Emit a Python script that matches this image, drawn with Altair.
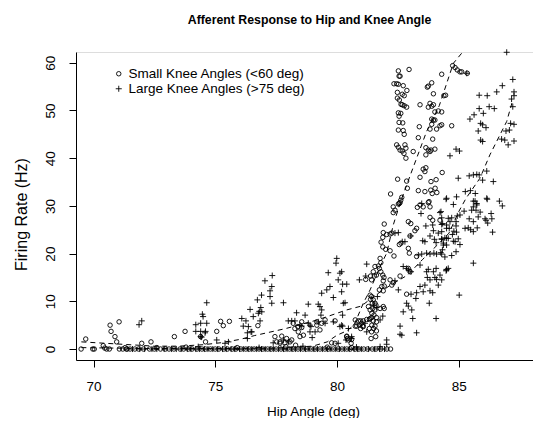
import altair as alt
import pandas as pd

# ---------------- data ----------------
small_x = [69.49, 69.68, 69.97, 70.03, 70.4, 70.46, 70.54, 70.65, 70.68, 70.72, 70.88, 70.95, 71.05, 71.06,
           71.3, 71.38, 71.98, 72.36, 73.32, 73.76, 74.4, 74.6, 75.06, 75.22, 75.33, 75.58, 76.75,
           77.45, 77.66, 78.07, 78.41, 78.48, 78.55, 77.73, 77.93, 78.14, 77.52, 77.66, 77.86, 78.62, 78.27,
           78.39, 78.55, 78.2, 79.17, 79.3, 79.17, 79.37, 79.51, 79.92, 79.78, 79.92, 80.4, 80.47, 80.58,
           80.75, 80.88, 80.97, 81.08, 81.22, 81.05, 80.92, 80.97, 80.75, 80.81, 81.33, 81.42, 81.56, 81.62,
           81.49, 81.62, 80.4, 80.42, 80.6, 81.4, 81.59, 81.01, 81.08, 81.36, 81.43, 81.5,
           81.29, 81.36, 81.43, 81.56, 81.77, 81.36, 81.42, 81.38, 81.49, 81.45, 81.6, 81.47, 81.56, 81.52,
           81.42, 81.62, 81.33, 81.9, 81.94,
           81.77, 81.8, 81.7, 81.74, 81.8, 81.88, 81.93, 81.9, 81.56, 81.49, 81.38, 81.53, 81.62, 81.42, 81.18,
           82.18, 82.31, 82.25, 81.94, 81.84, 81.9, 81.74, 82.86,
           81.81, 81.88, 82.0, 82.18, 82.34, 82.56, 82.63, 82.93, 82.97, 83.27, 82.93, 83.0, 82.59,
           81.94, 81.9, 82.04, 82.18, 82.25, 81.88, 82.93, 83.03, 83.27, 83.2, 83.0, 83.82, 83.93, 84.23,
           82.31, 82.38, 82.31, 82.59, 82.52, 83.3, 83.41, 83.54, 83.75, 83.82,
           82.2, 82.66, 82.62, 82.56, 82.89, 82.49, 82.86,
           83.34, 83.61, 83.85, 84.03, 84.1, 83.91, 83.78, 83.41, 84.07, 83.86, 83.54, 83.65, 83.61, 84.32,
           82.45, 82.52, 82.59, 82.68, 82.79, 82.83, 82.75, 82.83, 83.13,
           83.65, 83.75, 83.82, 83.86, 84.02, 83.65, 83.34, 83.93,
           82.52, 82.72, 82.76, 82.55, 82.70, 82.52, 82.62, 82.55,
           82.48, 82.56, 82.63, 82.68, 82.76, 82.86, 82.48, 82.68, 82.76, 82.87, 82.34, 82.45, 82.52, 82.72,
           82.55, 82.59, 82.52, 82.96,
           83.75, 83.89, 83.71, 83.96, 84.3, 84.39, 84.46, 83.41, 83.75, 83.82, 83.89, 83.96, 84.02, 84.16,
           84.3, 83.89, 83.96, 84.02, 83.89, 84.23, 84.71, 83.38, 83.82, 84.09, 84.3,
           84.75, 84.85, 84.94, 85.05, 85.12, 85.35,
           71.2, 71.35, 71.5, 71.7, 71.85, 72.05, 72.3, 72.5, 72.75, 72.95, 73.1, 73.3, 73.55, 73.7, 73.9,
           74.05, 74.25, 74.45, 74.6, 74.8, 75.0, 75.15, 75.35, 75.5, 75.7, 75.85, 76.05, 76.25, 76.4, 76.6,
           76.8, 76.95, 77.15, 77.3, 77.5, 77.7, 77.85, 78.05, 78.2, 78.4, 78.6, 78.75, 78.95, 79.1, 79.3,
           79.5, 79.65, 79.85, 80.05, 80.2, 80.4, 80.55, 80.75, 80.9, 81.1, 81.25, 81.45, 81.6, 81.8, 82.05,
           82.2, 72.6, 73.8, 75.9, 77.9, 78.3, 79.6, 80.6]
small_y = [0.0, 2.1, 0.0, 0.0, 0.7, 0.2, 0.0, 0.0, 5.0, 3.7, 2.6, 1.5, 5.7, 0.0,
           0.3, 0.0, 1.2, 1.5, 2.6, 3.7, 2.6, 1.5, 3.7, 5.8, 4.9, 5.8, 4.9,
           2.6, 1.5, 1.5, 3.6, 2.6, 4.5, 2.7, 2.2, 1.9, 1.5, 1.2, 1.3, 2.9, 4.3,
           4.7, 5.7, 5.4, 5.0, 4.0, 5.7, 5.4, 6.1, 5.9, 1.3, 1.2, 2.6, 1.9, 1.2,
           6.1, 5.9, 5.9, 5.9, 6.2, 4.8, 5.0, 4.3, 4.8, 4.8, 4.3, 3.6, 4.8, 5.7,
           5.9, 3.8, 2.7, 2.2, 2.0, 2.2, 2.6, 5.4, 4.7, 6.4, 5.0, 4.3,
           8.9, 8.2, 7.5, 9.6, 8.5, 11.3, 11.0, 10.4, 10.3, 9.6, 9.2, 8.5, 8.2, 7.1,
           6.6, 6.6, 6.2, 8.9, 8.5,
           19.0, 18.1, 17.4, 16.9, 16.2, 15.5, 15.0, 14.3, 17.3, 16.2, 15.3, 15.3, 15.5, 14.5, 14.6,
           14.5, 13.9, 13.4, 13.2, 13.1, 12.2, 12.4, 11.5,
           22.4, 21.4, 20.9, 20.6, 19.5, 21.9, 22.2, 21.1, 20.1, 19.4, 16.9, 16.2, 15.3,
           26.2, 24.4, 24.0, 24.1, 24.3, 23.4, 26.7, 26.3, 25.3, 24.8, 23.7, 27.6, 27.0, 27.0,
           29.8, 29.1, 28.6, 30.7, 30.4, 29.7, 30.2, 29.8, 30.7, 29.8,
           32.5, 31.8, 31.2, 30.5, 33.7, 35.6, 35.2,
           33.2, 33.0, 33.3, 33.7, 32.8, 32.6, 30.9, 36.0, 35.5, 35.1, 37.7, 38.0, 37.2, 37.0,
           42.8, 42.3, 41.7, 41.5, 42.8, 42.1, 41.0, 40.0, 41.4,
           42.2, 41.7, 41.4, 41.7, 41.9, 40.7, 44.3, 44.0,
           45.9, 45.8, 45.0, 47.5, 47.4, 49.5, 49.4, 48.8,
           52.6, 52.2, 51.3, 51.2, 51.0, 50.7, 53.8, 53.4, 53.1, 54.2, 55.6, 55.6, 55.5, 55.2,
           57.2, 57.2, 58.3, 58.6,
           55.1, 55.8, 54.9, 53.5, 57.6, 53.1, 53.2, 51.2, 50.7, 51.5, 50.9, 51.2, 49.7, 49.9,
           49.7, 48.2, 48.0, 48.0, 47.1, 46.8, 46.8, 46.6, 46.1, 46.1, 47.0,
           59.4, 59.0, 58.5, 58.1, 58.1, 57.8,
           0.0, 0.0, 0.0, 0.0, 0.0, 0.0, 0.0, 0.0, 0.0, 0.0, 0.0, 0.0, 0.0, 0.0, 0.0,
           0.0, 0.0, 0.0, 0.0, 0.0, 0.0, 0.0, 0.0, 0.0, 0.0, 0.0, 0.0, 0.0, 0.0, 0.0,
           0.0, 0.0, 0.0, 0.0, 0.0, 0.0, 0.0, 0.0, 0.0, 0.0, 0.0, 0.0, 0.0, 0.0, 0.0,
           0.0, 0.0, 0.0, 0.0, 0.0, 0.0, 0.0, 0.0, 0.0, 0.0, 0.0, 0.0, 0.0, 0.0, 0.0,
           0.0, 0.3, 0.4, 0.3, 0.5, 0.8, 0.4, 0.3]

large_x = [71.87, 71.98,
           74.2, 74.47, 74.5, 74.65, 74.4, 74.2, 74.4, 74.6, 74.65, 74.4, 74.44, 74.58,
           75.06, 75.54, 75.4,
           76.09, 76.26, 76.43, 76.15, 76.36, 76.5, 76.32, 76.56, 76.77, 76.47, 76.32,
           76.73, 76.81, 76.87, 76.9, 77.04, 77.34, 77.32, 77.25, 77.32, 77.25, 77.8, 76.84, 76.91,
           78.0, 78.14, 78.27, 78.34, 78.55, 78.82, 78.89, 78.98, 78.69, 78.48, 78.82, 78.89, 77.8, 78.0, 77.38,
           79.23, 79.23, 79.3, 79.37, 79.34, 79.51, 79.85, 79.1, 78.93,
           79.37, 79.58, 79.64, 79.71, 79.85, 79.96, 79.99, 80.05, 80.12, 80.23, 80.4, 80.33,
           80.26, 80.12, 80.19, 80.47, 81.15, 81.22, 81.49, 81.63, 81.77, 80.6, 80.05,
           80.19, 80.19, 80.23, 80.23, 80.6, 80.37,
           81.22, 81.18, 80.92, 81.66, 81.88,
           82.04, 82.04, 81.77, 82.59, 82.66, 83.27, 82.59,
           82.72, 82.86, 82.93, 83.04, 82.38, 82.52, 82.38, 82.52, 82.68, 82.79, 83.03,
           83.34, 83.48, 83.68, 83.82, 83.98, 84.09, 84.26,
           83.41, 83.68, 83.75, 83.82, 83.71, 84.02, 84.09, 83.96, 84.23, 84.5, 84.57, 84.48, 84.07,
           83.41, 83.61, 83.27, 83.54, 83.82, 84.16, 83.93,
           83.04, 83.24, 82.86, 82.93, 83.07, 83.79, 82.72, 83.11, 84.07,
           83.45, 83.65, 83.93, 84.23, 84.34, 84.16, 84.5, 84.57, 83.96, 83.82,
           83.52, 83.61, 84.0, 84.07, 84.3, 84.37, 84.5,
           83.48,
           84.48, 84.91, 85.67, 85.6, 85.74, 85.53, 85.71, 85.88, 86.17, 86.67, 86.79, 84.78, 85.22, 84.94,
           85.05, 86.33, 86.12, 86.36, 86.19, 85.43, 85.6, 85.8, 86.08, 85.26, 85.39, 85.49, 85.6, 85.76,
           86.39,
           84.27, 84.3, 84.71, 84.89, 84.64, 84.5, 84.89, 84.3, 84.3, 84.61, 84.8, 84.91, 84.74, 84.43,
           84.57, 84.3, 84.78, 84.85, 84.98, 85.05, 84.37, 84.5, 84.33, 84.43, 84.71, 84.89, 84.3,
           85.6, 84.5, 84.3, 85.02,
           86.97, 87.22, 86.79, 86.56, 85.84, 86.17, 87.27, 87.27, 87.17, 87.22, 86.25, 86.46, 85.84, 86.01,
           85.63, 85.46, 85.9, 85.98, 86.12, 85.8, 87.13, 87.27, 87.08, 86.94, 85.9, 85.98, 86.76, 86.89,
           87.27, 87.03, 84.89, 85.03, 84.64, 86.15, 85.6, 85.74, 85.84, 85.43, 84.98, 85.98, 86.42, 85.27,
           85.48, 85.68, 84.5, 85.6, 86.15, 85.74, 85.33,
           71.6, 71.9, 72.1, 72.4, 72.6, 72.9, 73.2, 73.4, 73.6, 73.85, 74.0, 74.2, 74.35, 74.55, 74.7,
           74.9, 75.1, 75.3, 75.45, 75.65, 75.8, 76.0, 76.15, 76.35, 76.5, 76.7, 76.9, 77.05, 77.25, 77.4,
           77.6, 77.8, 77.95, 78.15, 78.3, 78.5, 78.7, 78.85, 79.05, 79.2, 79.4, 79.6, 79.75, 79.95, 80.1,
           80.3, 80.5, 80.7, 80.85, 81.0, 81.3, 81.55, 81.75, 81.95, 74.3, 76.8, 78.6, 80.8]
large_y = [5.1, 5.9,
           5.1, 7.3, 6.8, 5.4, 5.4, 3.7, 3.7, 3.7, 9.7, 2.6, 2.5, 3.4,
           1.9, 1.5, 1.2,
           6.4, 5.9, 8.3, 4.8, 4.7, 3.6, 3.4, 6.8, 7.5, 3.6, 2.2,
           10.3, 7.9, 8.7, 11.3, 14.3, 15.4, 13.1, 11.0, 9.6, 12.2, 9.7, 5.9, 7.8,
           5.9, 5.9, 5.9, 7.6, 4.8, 9.4, 3.6, 2.4, 7.1, 5.0, 5.4, 5.0, 1.9, 1.5, 1.3,
           5.7, 9.4, 8.9, 8.2, 7.1, 5.4, 5.7, 3.6, 4.7,
           11.7, 12.4, 16.0, 13.1, 10.8, 18.0, 19.0, 14.5, 15.9, 13.6, 13.6, 9.7,
           9.6, 4.7, 5.0, 4.3, 5.4, 3.6, 9.2, 8.7, 6.1, 2.6, 1.2,
           16.2, 12.0, 7.1, 4.8, 2.2, 1.9,
           17.8, 15.3, 14.5, 11.0, 6.9,
           1.9, 1.0, 0.5, 4.8, 2.9, 3.4, 3.1,
           17.3, 16.9, 16.6, 16.2, 14.3, 12.4, 24.3, 24.4, 22.5, 22.5, 23.7,
           19.7, 19.9, 20.1, 19.9, 20.1, 19.9, 20.2,
           17.6, 16.2, 16.7, 14.5, 15.0, 15.0, 14.6, 16.2, 15.5, 16.7, 16.9, 16.4, 16.9,
           13.1, 13.4, 11.8, 12.0, 12.2, 13.4, 11.8,
           11.5, 10.6, 9.6, 9.0, 8.2, 9.6, 7.8, 6.4, 6.4,
           28.4, 25.8, 26.0, 28.6, 26.3, 24.3, 25.3, 27.4, 24.8, 23.7,
           22.7, 22.5, 23.0, 22.3, 23.0, 22.2, 23.2,
           30.5,
           31.4, 31.9, 31.0, 29.8, 30.2, 29.1, 29.1, 28.7, 31.4, 31.0, 30.0, 30.3, 28.9, 27.9,
           28.1, 28.4, 27.0, 27.3, 26.4, 27.3, 26.7, 27.7, 27.3, 25.3, 25.4, 25.0, 24.6, 25.4,
           24.5,
           28.8, 27.5, 27.5, 26.7, 26.7, 26.0, 25.8, 26.1, 24.6, 25.3, 24.7, 24.5, 24.0, 23.3,
           23.2, 23.1, 22.6, 22.5, 23.1, 21.9, 21.8, 21.8, 20.8, 19.3, 19.6, 20.4, 19.9,
           18.0, 16.6, 14.5, 11.3,
           62.2, 56.5, 55.2, 53.9, 53.2, 53.1, 53.9, 53.1, 52.4, 50.8, 50.8, 50.4, 50.4, 49.4,
           49.1, 48.2, 47.3, 47.0, 46.4, 45.7, 47.3, 47.1, 45.9, 45.7, 43.8, 43.5, 44.0, 43.8,
           43.6, 42.8, 41.9, 41.5, 40.5, 37.3, 36.5, 36.6, 36.5, 36.3, 35.8, 35.4, 35.1, 33.0,
           33.2, 32.6, 31.6, 31.0, 31.6, 30.5, 57.8,
           0.0, 0.0, 0.0, 0.0, 0.0, 0.0, 0.0, 0.0, 0.0, 0.0, 0.0, 0.0, 0.0, 0.0, 0.0,
           0.0, 0.0, 0.0, 0.0, 0.0, 0.0, 0.0, 0.0, 0.0, 0.0, 0.0, 0.0, 0.0, 0.0, 0.0,
           0.0, 0.0, 0.0, 0.0, 0.0, 0.0, 0.0, 0.0, 0.0, 0.0, 0.0, 0.0, 0.0, 0.0, 0.0,
           0.0, 0.0, 0.0, 0.0, 0.0, 0.0, 0.0, 0.0, 0.0, 0.5, 0.3, 0.6, 0.4]

# dashed fitted curves
small_fit_x = [69.5, 72.0, 75.0, 77.5, 79.0, 79.6, 80.0, 80.4, 80.7, 81.08, 81.36, 81.77, 82.04,
               82.31, 82.62, 83.0, 83.68, 84.2, 84.78, 85.25]
small_fit_y = [0.3, 0.1, 0.1, 0.2, 0.6, 1.5, 2.9, 3.8, 5.0, 9.6, 12.4, 17.3, 20.1,
               26.0, 31.0, 36.3, 45.6, 51.0, 59.9, 62.8]
large_fit_x = [69.5, 70.5, 71.5, 72.5, 73.5, 74.5, 75.2, 76.0, 76.6, 77.9, 79.2, 80.4, 81.0, 81.5,
               82.2, 82.9, 83.5, 84.2, 84.6, 85.0, 85.3, 85.87, 86.28, 86.97, 87.22]
large_fit_y = [1.5, 1.2, 0.9, 0.6, 0.6, 0.9, 1.3, 2.0, 2.8, 4.3, 6.1, 8.2, 9.0, 11.0,
               13.4, 15.5, 18.7, 22.2, 24.3, 28.8, 31.6, 35.8, 40.7, 47.7, 52.2]

groups = ["Small Knee Angles (<60 deg)", "Large Knee Angles (>75 deg)"]
x_ticks = [70, 75, 80, 85]
y_ticks = [0, 10, 20, 30, 40, 50, 60]

# ---------------- build tables ----------------
pts = pd.concat([
    pd.DataFrame({"hip": small_x, "rate": small_y, "group": groups[0]}),
    pd.DataFrame({"hip": large_x, "rate": large_y, "group": groups[1]}),
], ignore_index=True)
fits = pd.concat([
    pd.DataFrame({"hip": small_fit_x, "rate": small_fit_y, "fit": "small"}),
    pd.DataFrame({"hip": large_fit_x, "rate": large_fit_y, "fit": "large"}),
], ignore_index=True)

FONT = "Liberation Sans"
PLUS = "M-1.35,0L1.35,0M0,-1.35L0,1.35"

xscale = alt.Scale(domain=[69.28, 88.05], nice=False, zero=False)
yscale = alt.Scale(domain=[-2.3, 62.26], nice=False, zero=False)

xaxis = alt.Axis(values=x_ticks, grid=False, domainColor="black", tickColor="black", tickSize=7,
                 labelFont=FONT, labelFontSize=13.5, labelColor="black", labelBaseline="alphabetic",
                 labelPadding=23, labelFlush=False,
                 title="Hip Angle (deg)", titleFont=FONT, titleFontSize=13.5, titleFontWeight="normal",
                 titleColor="black", titleBaseline="alphabetic", titleX=237, titleY=55,
                 titleAnchor="middle", titleAlign="center")
yaxis = alt.Axis(values=y_ticks, grid=False, domainColor="black", tickColor="black", tickSize=7,
                 labelFont=FONT, labelFontSize=13.5, labelColor="black", labelAngle=270,
                 labelAlign="center", labelBaseline="alphabetic", labelPadding=15, labelFlush=False,
                 title="Firing Rate (Hz)", titleFont=FONT, titleFontSize=16, titleFontWeight="normal",
                 titleColor="black", titleAngle=270, titleBaseline="alphabetic", titleAlign="center",
                 titleX=-50, titleY=162)

points = alt.Chart(pts).mark_point(filled=False, strokeWidth=0.9, size=20, opacity=1).encode(
    x=alt.X("hip:Q", scale=xscale, axis=xaxis),
    y=alt.Y("rate:Q", scale=yscale, axis=yaxis),
    shape=alt.Shape("group:N", scale=alt.Scale(domain=groups, range=["circle", PLUS]),
                    legend=alt.Legend(title=None, orient="none", legendX=36, legendY=15,
                                      labelFont=FONT, labelFontSize=13.5, labelColor="black",
                                      labelLimit=0,
                                      symbolStrokeColor="black", symbolFillColor="transparent",
                                      symbolStrokeWidth=0.9, symbolSize=20, labelOffset=3,
                                      rowPadding=0, padding=0)),
    color=alt.value("black"),
)

lines = alt.Chart(fits).mark_line(color="black", strokeWidth=1, strokeDash=[5, 4], clip=True).encode(
    x=alt.X("hip:Q", scale=xscale),
    y=alt.Y("rate:Q", scale=yscale),
    detail="fit:N",
    order=alt.Order("hip:Q"),
)

chart = alt.layer(points, lines).properties(
    width=457, height=308,
    title=alt.TitleParams("Afferent Response to Hip and Knee Angle", font=FONT, fontSize=12.3,
                          fontWeight="bold", color="black", anchor="middle", frame="group",
                          offset=21, dx=5),
    autosize=alt.AutoSizeParams(type="none"),
    padding={"left": 68, "top": 44, "right": 0, "bottom": 58},
).configure_view(stroke=None).configure(background="white")

chart.save("out.html", embed_options={"renderer": "svg", "actions": False})
